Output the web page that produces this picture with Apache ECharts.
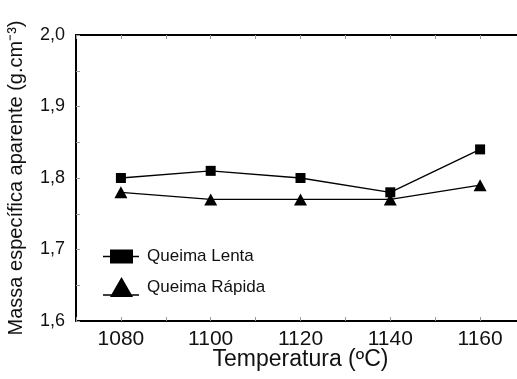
<!DOCTYPE html>
<html>
<head>
<meta charset="utf-8">
<script src="https://cdn.jsdelivr.net/npm/echarts@6/dist/echarts.min.js"></script>
<style>
  html, body { margin: 0; padding: 0; background: #fff; }
  #chart { width: 517px; height: 379px; }
</style>
</head>
<body>
<div id="chart"></div>
<script>
// dados
const temperaturas = [1080, 1100, 1120, 1140, 1160];
const queimaLenta = [1.80, 1.81, 1.80, 1.78, 1.84];
const queimaRapida = [1.78, 1.77, 1.77, 1.77, 1.79];
const xLabels = [1080, 1100, 1120, 1140, 1160];
const yLabels = [1.6, 1.7, 1.8, 1.9, 2.0];

const fonte = 'Liberation Sans, Arial, sans-serif';
const chart = echarts.init(document.getElementById('chart'));

const tickStyle = { show: true, inside: true, length: 4, lineStyle: { color: '#999', width: 1 } };

// ícones da legenda: linha + marcador (mais largo que alto, como no original)
const iconeLenta = 'path://M0,6.2H7V0H30V6.2H36V7.8H30V14H7V7.8H0Z';
const iconeRapida = 'path://M7,20L18.5,0L30,20ZM0,17.2H36V18.8H0Z';

const option = {
  backgroundColor: '#fff',
  animation: false,
  grid: { left: 76, top: 35, bottom: 58, right: -8, outerBoundsMode: 'none', containLabel: false },
  legend: {
    orient: 'vertical',
    left: 103,
    top: 248,
    padding: 0,
    itemWidth: 36,
    itemHeight: 20,
    itemGap: 12,
    symbolKeepAspect: true,
    itemStyle: { color: '#000', borderWidth: 0 },
    textStyle: { fontFamily: fonte, fontSize: 17, color: '#111', padding: [3, 0, 0, 3] },
    data: [
      { name: 'Queima Lenta', icon: iconeLenta },
      { name: 'Queima Rápida', icon: iconeRapida }
    ]
  },
  xAxis: [
    {
      type: 'value',
      min: 1070,
      max: 1170,
      interval: 10,
      name: 'Temperatura (ºC)',
      nameLocation: 'middle',
      nameGap: 27,
      nameMoveOverlap: false,
      nameTextStyle: { fontFamily: fonte, fontSize: 23, color: '#111' },
      axisLine: { lineStyle: { color: '#000', width: 2 } },
      axisTick: tickStyle,
      splitLine: { show: false },
      axisLabel: {
        margin: 8,
        fontFamily: fonte,
        fontSize: 21,
        color: '#111',
        formatter: (v) => (xLabels.indexOf(v) >= 0 ? String(v) : '')
      }
    },
    {
      type: 'value',
      position: 'top',
      min: 1070,
      max: 1170,
      interval: 10,
      axisLine: { show: true, lineStyle: { color: '#000', width: 2 } },
      axisTick: tickStyle,
      axisLabel: { show: false },
      splitLine: { show: false }
    }
  ],
  yAxis: {
    type: 'value',
    min: 1.6,
    max: 2.0,
    interval: 0.05,
    name: 'Massa específica aparente (g.cm⁻³)',
    nameLocation: 'middle',
    nameGap: 50,
    nameMoveOverlap: false,
    nameTextStyle: { fontFamily: fonte, fontSize: 20, color: '#111' },
    axisLine: { show: true, lineStyle: { color: '#000', width: 2 } },
    axisTick: tickStyle,
    splitLine: { show: false },
    axisLabel: {
      margin: 11,
      fontFamily: fonte,
      fontSize: 18,
      color: '#111',
      formatter: (v) => {
        const lbl = yLabels.find((y) => Math.abs(y - v) < 1e-6);
        return lbl !== undefined ? lbl.toFixed(1).replace('.', ',') : '';
      }
    }
  },
  series: [
    {
      name: 'Queima Lenta',
      type: 'line',
      data: temperaturas.map((t, i) => [t, queimaLenta[i]]),
      symbol: 'rect',
      symbolSize: 10,
      itemStyle: { color: '#000' },
      lineStyle: { color: '#000', width: 1.3 }
    },
    {
      name: 'Queima Rápida',
      type: 'line',
      data: temperaturas.map((t, i) => [t, queimaRapida[i]]),
      symbol: 'triangle',
      symbolSize: [13, 12],
      itemStyle: { color: '#000' },
      lineStyle: { color: '#000', width: 1.3 }
    }
  ]
};

chart.setOption(option);
</script>
</body>
</html>
